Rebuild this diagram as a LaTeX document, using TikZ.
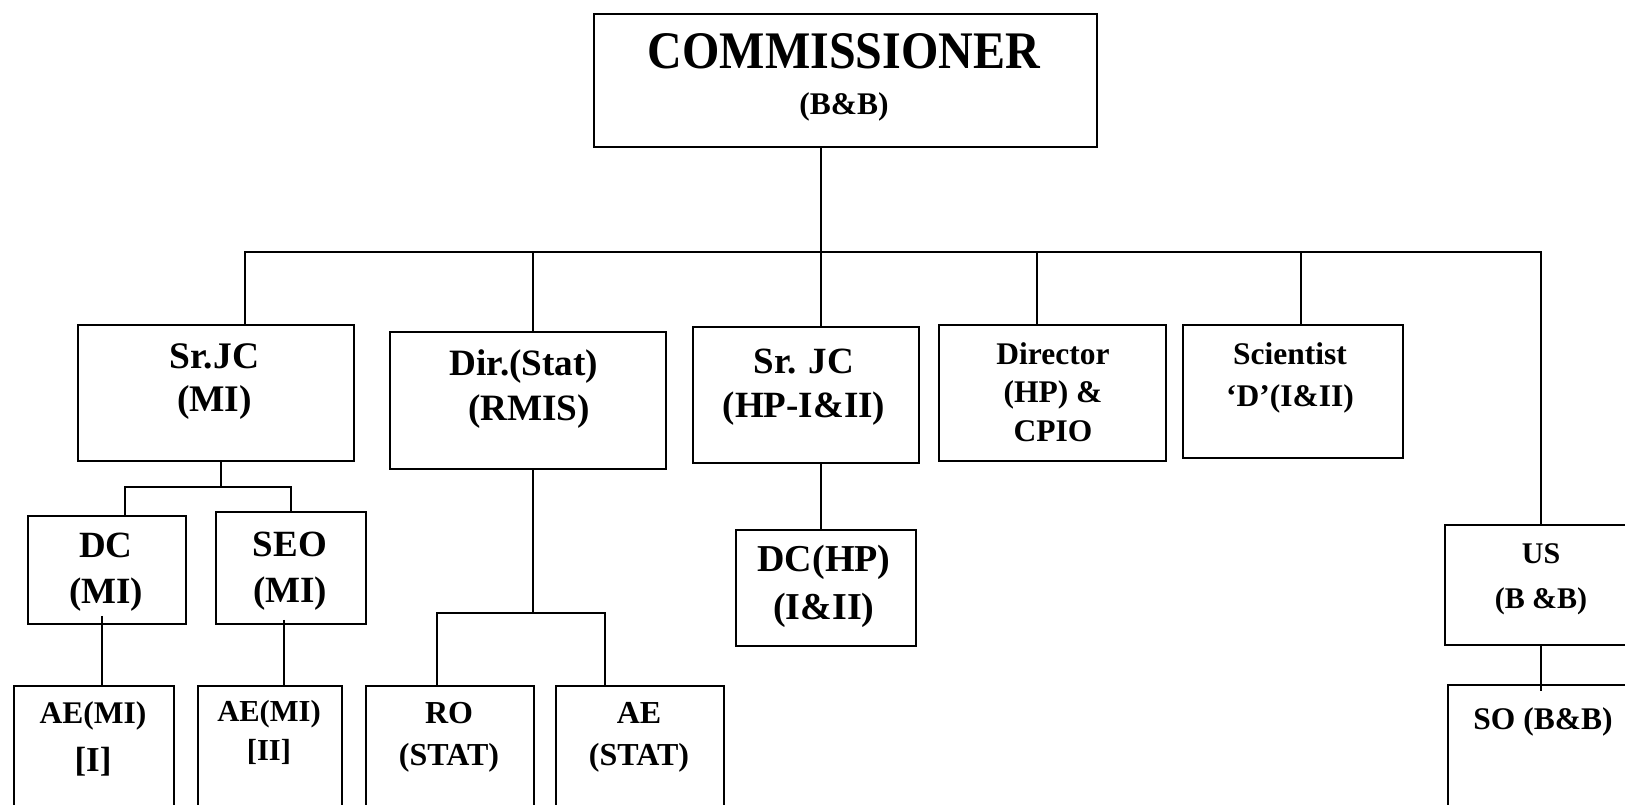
\documentclass[tikz,border=0pt]{standalone}
\usepackage{graphicx}
\usepackage{fontspec}
\setmainfont{Liberation Serif}
\usetikzlibrary{positioning}

\tikzset{
  post/.style={draw, line width=1.8pt, inner sep=0pt, anchor=north west},
  link/.style={line width=1.8pt},
  lbl/.style 2 args={align=center, inner sep=0pt, anchor=base,
    font=\fontsize{#1}{#2}\selectfont\bfseries}
}

\begin{document}
\begin{tikzpicture}[x=1pt, y=-1pt]
    \useasboundingbox (0,0) rectangle (1625,804);
    \clip (0,0) rectangle (1625,804);

    % boxes
    \node [post, minimum width=503pt, minimum height=133pt] (comm) at (593,13) {};
    \node [post, minimum width=276pt, minimum height=136pt] (srjcmi) at (77,324) {};
    \node [post, minimum width=276pt, minimum height=137pt] (dirstat) at (389,331) {};
    \node [post, minimum width=226pt, minimum height=136pt] (srjchp) at (692,326) {};
    \node [post, minimum width=227pt, minimum height=136pt] (dirhp) at (938,324) {};
    \node [post, minimum width=220pt, minimum height=133pt] (scid) at (1182,324) {};
    \node [post, minimum width=158pt, minimum height=108pt] (dcmi) at (27,515) {};
    \node [post, minimum width=150pt, minimum height=112pt] (seomi) at (215,511) {};
    \node [post, minimum width=180pt, minimum height=116pt] (dchp) at (735,529) {};
    \node [post, minimum width=230pt, minimum height=120pt] (usbb) at (1444,524) {};
    \node [post, minimum width=160pt, minimum height=150pt] (aemi1) at (13,685) {};
    \node [post, minimum width=144pt, minimum height=150pt] (aemi2) at (197,685) {};
    \node [post, minimum width=168pt, minimum height=150pt] (rostat) at (365,685) {};
    \node [post, minimum width=168pt, minimum height=150pt] (aestat) at (555,685) {};
    \node [post, minimum width=230pt, minimum height=150pt] (sobb) at (1447,684) {};

    % texts (anchored at the baseline of the last line)
    \node [lbl={31.5}{46.7}] (commt) at (844,114.7)
      {{\fontsize{48}{48}\selectfont\scalebox{1}[1.1]{COMMISSIONER}}\\(B\&B)};
    \node [lbl={37.5}{43.5}] (srjcmit) at (214.5,411.7) {Sr.JC\\(MI)};
    \node [lbl={37.2}{45}] (dirstatt) at (524,420.3) {Dir.(Stat)\\\hspace*{10pt}(RMIS)};
    \node [lbl={37}{44}] (srjchpt) at (804,417) {Sr. JC\\(HP-I\&II)};
    \node [lbl={31.5}{38.5}] (dirhpt) at (1053,441) {Director\\(HP) \&\\CPIO};
    \node [lbl={31.5}{42}] (scidt) at (1290,406) {Scientist\\`D'(I\&II)};
    \node [lbl={37}{46}] (dcmit) at (106,603) {DC\\(MI)};
    \node [lbl={37}{46.5}] (seomit) at (290,602.7) {SEO\\(MI)};
    \node [lbl={38}{48}] (dchpt) at (824,619) {DC(HP)\\(I\&II)};
    \node [lbl={30}{45}] (usbbt) at (1541,608) {US\\(B \&B)};
    \node [lbl={31.5}{48.7}] (aemi1t) at (93,771.7) {AE(MI)\\{\fontsize{35}{48.7}\selectfont [I]}};
    \node [lbl={30.5}{39.7}] (aemi2t) at (269,760.7) {AE(MI)\\{[II]}};
    \node [lbl={32}{41.7}] (rostatt) at (449,765) {RO\\(STAT)};
    \node [lbl={32}{41.7}] (aestatt) at (639,765) {AE\\(STAT)};
    \node [lbl={31.5}{40}] (sobbt) at (1543,729) {SO (B\&B)};

    % connectors
    \coordinate (hub) at (821,252);
    \draw [link] (comm.south -| hub) -- (srjchp.north -| hub);
    \draw [link] (srjcmi.north -| 245,0) |- (hub) -| (usbb.north -| 1541,0);
    \foreach \tap/\post in {533/dirstat, 1037/dirhp, 1301/scid}
      \draw [link] (hub -| \tap,0) -- (\post.north -| \tap,0);

    \coordinate (mihub) at (221,487);
    \draw [link] (srjcmi.south -| mihub) -- (mihub);
    \draw [link] (dcmi.north -| 125,0) |- (mihub) -| (seomi.north -| 291,0);
    \draw [link] ([shift={(-5,-9)}]dcmi.south) -- ([xshift=-5pt]dcmi.south |- aemi1.north);
    \draw [link] ([shift={(-7,-5)}]seomi.south) -- ([xshift=-7pt]seomi.south |- aemi2.north);

    \coordinate (stathub) at (533,613);
    \draw [link] (dirstat.south -| stathub) -- (stathub);
    \draw [link] (rostat.north -| 437,0) |- (stathub) -| (aestat.north -| 605,0);

    \draw [link] (srjchp.south -| hub) -- (dchp.north -| hub);
    \draw [link] (usbb.south -| 1541,0) -- ([yshift=-7pt]sobb.north -| 1541,0);
\end{tikzpicture}
\end{document}
